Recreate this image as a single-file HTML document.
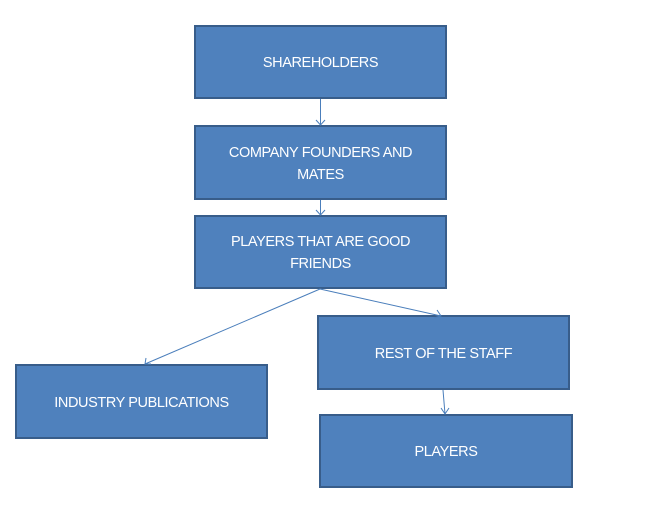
<!DOCTYPE html>
<html><head><style>
body{margin:0;width:657px;height:512px;background:#fff;position:relative;overflow:hidden;font-family:"Liberation Sans",sans-serif}
.b{position:absolute;background:#4F81BD;border:2px solid #385D8A;box-sizing:border-box;color:#fff;font-size:14.5px;display:flex;align-items:center;justify-content:center;text-align:center;line-height:22px;letter-spacing:-0.4px;padding-top:2px}
svg{position:absolute;left:0;top:0}
</style></head><body>
<div class="b" style="left:194px;top:25px;width:253px;height:74px">SHAREHOLDERS</div>
<div class="b" style="left:194px;top:125px;width:253px;height:75px;padding-left:18px;padding-right:18px">COMPANY FOUNDERS AND MATES</div>
<div class="b" style="left:194px;top:215px;width:253px;height:74px;padding-left:22px;padding-right:22px">PLAYERS THAT ARE GOOD FRIENDS</div>
<div class="b" style="left:15px;top:364px;width:253px;height:75px">INDUSTRY PUBLICATIONS</div>
<div class="b" style="left:317px;top:315px;width:253px;height:75px">REST OF THE STAFF</div>
<div class="b" style="left:319px;top:414px;width:254px;height:74px">PLAYERS</div>
<svg width="657" height="512" fill="none" stroke="#4A7EBB" stroke-width="1">
<path d="M320.5 99V125M316 120l4.5 5 4.5-5"/>
<path d="M320.5 200V215M316 210l4.5 5 4.5-5"/>
<path d="M320 289L145 364M146 358l-1 6 6 0"/>
<path d="M320 289L441 316M434 318l7-2-4-6"/>
<path d="M443 390L445 414M441 408l4 6 4-6"/>
</svg>
</body></html>
